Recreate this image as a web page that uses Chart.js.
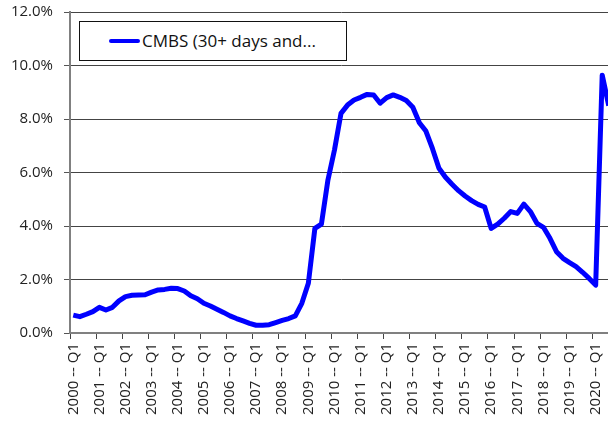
<!DOCTYPE html>
<html>
<head>
<meta charset="utf-8">
<script src="https://cdn.jsdelivr.net/npm/chart.js@4.4.1/dist/chart.umd.min.js"></script>
<style>
  html, body { margin: 0; padding: 0; overflow: hidden; background: #fff; }
  #wrap { position: relative; width: 630px; height: 427px; }
  #legendBox {
    position: absolute; left: 79px; top: 21px; width: 266px; height: 38px;
    border: 1.5px solid #111; background: #fff;
    font-family: 'Open Sans', sans-serif; font-size: 17px; color: #111;
  }
  #legendBox .swatch { position: absolute; left: 29px; top: 17px; width: 31px; height: 4px; background: #0000ff; border-radius: 2px; }
  #legendBox .txt { position: absolute; left: 62px; top: 7px; white-space: nowrap; }
</style>
</head>
<body>
<div id="wrap">
  <canvas id="cmbsChart" width="630" height="427"></canvas>
  <div id="legendBox"><span class="swatch"></span><span class="txt">CMBS (30+ days and...</span></div>
</div>
<script>
// categories: quarters from 2000 Q1 to 2020 Q3
const years = [2000, 2001, 2002, 2003, 2004, 2005, 2006, 2007, 2008, 2009, 2010,
               2011, 2012, 2013, 2014, 2015, 2016, 2017, 2018, 2019, 2020];
const quarters = ['Q1', 'Q2', 'Q3', 'Q4'];

// delinquency rate in %, one value per quarter
const rate2000s = [
  0.67, 0.61, 0.70, 0.80,   // 2000
  0.96, 0.86, 0.96, 1.20,   // 2001
  1.36, 1.41, 1.42, 1.43,   // 2002
  1.53, 1.61, 1.63, 1.67,   // 2003
  1.66, 1.57, 1.39, 1.28,   // 2004
  1.11, 1.01, 0.89, 0.77,   // 2005
  0.64, 0.54, 0.45, 0.36,   // 2006
  0.29, 0.29, 0.31, 0.39,   // 2007
  0.47, 0.54, 0.64, 1.11,   // 2008
  1.86, 3.91, 4.07, 5.72    // 2009
];
const rate2010s = [
  6.84, 8.21, 8.52, 8.71,   // 2010
  8.81, 8.92, 8.90, 8.59,   // 2011
  8.80, 8.90, 8.81, 8.69,   // 2012
  8.44, 7.86, 7.55, 6.90,   // 2013
  6.16, 5.82, 5.56, 5.32,   // 2014
  5.12, 4.95, 4.81, 4.71,   // 2015
  3.91, 4.07, 4.29, 4.54,   // 2016
  4.47, 4.82, 4.54, 4.10,   // 2017
  3.95, 3.54, 3.04, 2.79,   // 2018
  2.63, 2.48, 2.27, 2.04,   // 2019
  1.79, 9.64, 8.50          // 2020
];

const yTicks = [0, 2, 4, 6, 8, 10, 12];

document.addEventListener('DOMContentLoaded', function() {
    const labels = [];
    years.forEach(y => quarters.forEach(q => labels.push(y + ' -- ' + q)));
    const values = rate2000s.concat(rate2010s);
    labels.length = values.length;

    const font = { family: "'Open Sans', sans-serif", size: 15 };

    new Chart(document.getElementById('cmbsChart'), {
        type: 'line',
        data: {
            labels: labels,
            datasets: [{
                label: 'CMBS (30+ days and...',
                data: values,
                borderColor: '#0000ff',
                borderWidth: 5,
                pointRadius: 0,
                tension: 0,
                borderJoinStyle: 'round',
                borderCapStyle: 'butt'
            }]
        },
        options: {
            responsive: false,
            animation: false,
            layout: { padding: { top: 12, right: 18, left: 0, bottom: 0 } },
            plugins: { legend: { display: false }, tooltip: { enabled: false } },
            scales: {
                x: {
                    type: 'category',
                    offset: true,
                    grid: {
                        offset: true,
                        drawOnChartArea: false,
                        tickLength: 6,
                        tickColor: ctx => (ctx.index % 4 === 0 ? '#444' : 'rgba(0,0,0,0)')
                    },
                    border: { color: '#808080', width: 2 },
                    ticks: {
                        autoSkip: false,
                        maxRotation: 90,
                        minRotation: 90,
                        padding: 4,
                        color: '#222',
                        font: font,
                        callback: function(val, i) { return i % 4 === 0 ? this.getLabelForValue(val) : ''; }
                    },
                    afterFit: scale => {
                        scale.height = 94;
                        scale.paddingLeft = 0;
                        scale.paddingRight = 0;
                    }
                },
                y: {
                    min: yTicks[0],
                    max: yTicks[yTicks.length - 1],
                    afterBuildTicks: scale => { scale.ticks = yTicks.map(v => ({ value: v })); },
                    grid: {
                        color: '#444',
                        lineWidth: 1,
                        borderDash: [1, 1],
                        tickBorderDash: [],
                        tickColor: '#555',
                        tickLength: 6
                    },
                    border: { color: '#808080', width: 2 },
                    ticks: {
                        padding: 11,
                        color: '#222',
                        font: font,
                        callback: v => v.toFixed(1) + '%'
                    },
                    afterFit: scale => {
                        scale.width = 70;
                        scale.paddingTop = 0;
                        scale.paddingBottom = 0;
                    }
                }
            }
        }
    });
});
</script>
</body>
</html>
